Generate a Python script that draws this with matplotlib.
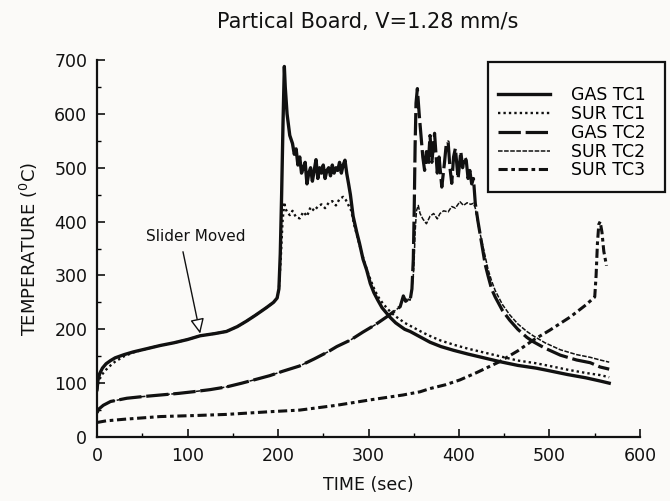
import matplotlib
matplotlib.use("Agg")
import matplotlib.pyplot as plt
from matplotlib.patches import Rectangle
from matplotlib.ticker import MultipleLocator

plt.rcParams['font.family'] = ['DejaVu Sans']

# ---- thermocouple traces (time in s, temperature in deg C) ----
gas_tc1_t = [0, 1, 3, 6, 10, 15, 20, 30, 40, 55, 70, 85, 100, 114, 130, 143, 155, 165,
             175, 187, 195, 199, 201, 202.5, 204, 205.5, 207, 208, 210, 213, 216, 218,
             220, 222, 224, 226, 228, 230, 232, 234, 236, 238, 240, 242, 244, 246, 248,
             250, 252, 254, 256, 258, 260, 262, 264, 266, 268, 270, 272, 274, 276, 278,
             280, 283, 287, 290, 294, 298, 302, 306, 310, 315, 320, 324, 330, 340, 346,
             357, 368, 380, 394, 410, 425, 445, 465, 485, 497, 520, 540, 556, 566]
gas_tc1_T = [88, 105, 118, 128, 136, 142, 147, 153, 158, 164, 170, 175, 181, 188, 192, 196,
             205, 215, 226, 240, 250, 258, 275, 340, 450, 580, 688, 650, 600, 560, 545, 525,
             535, 505, 520, 490, 500, 510, 470, 490, 500, 475, 495, 515, 480, 500, 490,
             505, 480, 495, 500, 485, 505, 490, 500, 495, 510, 490, 505, 514, 489, 470,
             450, 410, 380, 360, 330, 310, 285, 268, 255, 240, 230, 222, 212, 200, 196,
             186, 176, 168, 161, 154, 148, 140, 133, 128, 124, 116, 110, 104, 100]

sur_tc1_t = [0, 1, 3, 6, 10, 15, 20, 30, 40, 55, 70, 85, 100, 114, 130, 143, 155, 165,
             175, 187, 195, 199, 201, 203, 205, 207, 208, 210, 213, 216, 220, 224, 228,
             232, 236, 240, 244, 248, 252, 256, 260, 264, 268, 272, 275, 278, 281, 284,
             288, 292, 296, 300, 305, 310, 315, 320, 325, 330, 340, 350, 360, 370, 380,
             395, 410, 425, 445, 465, 485, 500, 520, 540, 556, 566]
sur_tc1_T = [88, 98, 108, 117, 125, 133, 140, 150, 157, 164, 170, 175, 181, 188, 192, 196,
             205, 215, 226, 240, 250, 258, 275, 330, 400, 436, 425, 418, 412, 420, 408,
             406, 418, 410, 427, 420, 428, 432, 425, 435, 438, 430, 442, 446, 440, 430,
             420, 395, 370, 345, 322, 302, 280, 262, 250, 240, 231, 224, 212, 203, 194,
             186, 179, 171, 164, 158, 150, 142, 137, 132, 125, 119, 115, 111]

gas_tc2_t = [0, 2, 7, 15, 33, 50, 70, 90, 106, 125, 143, 160, 180, 191, 205, 224, 240, 255,
             265, 280, 294, 307, 320, 328, 335, 338.5, 341, 344, 346, 348, 349.5, 350.5,
             351.5, 352.5, 354, 356, 358, 360, 362, 364, 366, 368, 370, 373, 376, 378, 381,
             384, 386, 388, 390, 392, 394, 396, 399, 402, 404, 406, 408, 410, 412, 414, 416,
             418, 421, 425, 429, 432, 436, 440, 448, 456, 465, 475, 482, 495, 512, 530,
             545, 556, 566]
gas_tc2_T = [45, 52, 59, 66, 72, 75, 78, 81, 84, 88, 93, 100, 109, 114, 122, 132, 145, 158,
             168, 180, 195, 208, 223, 233, 242, 262, 252, 256, 254, 275, 330, 420, 540, 620,
             647, 600, 560, 520, 495, 530, 505, 560, 510, 564, 490, 520, 464, 510, 545, 548,
             500, 471, 520, 536, 480, 530, 500, 520, 514, 480, 495, 470, 480, 434, 400, 360,
             320, 300, 275, 260, 235, 217, 200, 185, 177, 165, 152, 143, 138, 130, 126]

sur_tc2_t = [0, 2, 7, 15, 33, 50, 70, 90, 106, 125, 143, 160, 180, 191, 205, 224, 240, 255,
             265, 280, 294, 307, 320, 328, 335, 338.5, 341, 344, 346, 348, 349.5, 350.5,
             351.5, 353, 355, 357, 360, 364, 368, 372, 376, 379, 383, 388, 392, 396, 401,
             405, 409, 413, 416, 418, 421, 425, 429, 432, 436, 440, 448, 456, 465, 475, 482,
             495, 512, 530, 545, 556, 566]
sur_tc2_T = [45, 52, 59, 66, 72, 75, 78, 81, 84, 88, 93, 100, 109, 114, 122, 132, 145, 158,
             168, 180, 195, 208, 223, 233, 242, 262, 252, 256, 254, 275, 300, 330, 380, 420,
             430, 415, 405, 396, 410, 415, 405, 415, 420, 418, 428, 425, 437, 430, 435, 432,
             434, 425, 395, 365, 335, 312, 290, 272, 246, 227, 210, 196, 188, 175, 162, 153,
             148, 143, 139]

sur_tc3_t = [0, 10, 30, 70, 110, 143, 191, 224, 265, 302, 338, 357, 368, 385, 401, 420, 445,
             465, 482, 500, 523, 540, 550, 551.5, 553, 554.5, 556, 558, 560, 563]
sur_tc3_T = [27, 30, 33, 38, 40, 42, 47, 50, 59, 69, 78, 84, 90, 97, 106, 120, 140, 160, 180,
             198, 223, 245, 260, 300, 360, 395, 400, 380, 345, 318]

series_labels = ['GAS TC1', 'SUR TC1', 'GAS TC2', 'SUR TC2', 'SUR TC3']

fig = plt.figure(figsize=(6.70, 5.01), dpi=100)
fig.patch.set_facecolor('#fbfaf8')
ax = fig.add_axes([0.1448, 0.1277, 0.8104, 0.7525])
ax.set_facecolor('#fbfaf8')

ink = '#111111'
h1, = ax.plot(gas_tc1_t, gas_tc1_T, color=ink, lw=2.4, ls='-')
h2, = ax.plot(sur_tc1_t, sur_tc1_T, color=ink, lw=1.7, ls=(0, (1, 1.3)))
h3, = ax.plot(gas_tc2_t, gas_tc2_T, color=ink, lw=2.3, ls=(0, (7, 1.5)))
h4, = ax.plot(sur_tc2_t, sur_tc2_T, color=ink, lw=1.1, ls=(0, (3, 1)))
h5, = ax.plot(sur_tc3_t, sur_tc3_T, color=ink, lw=2.2, ls=(0, (3, 1.2, 1.2, 1.2)))

ax.set_xlim(0, 600)
ax.set_ylim(0, 700)
ax.xaxis.set_major_locator(MultipleLocator(100))
ax.xaxis.set_minor_locator(MultipleLocator(50))
ax.yaxis.set_major_locator(MultipleLocator(100))
ax.yaxis.set_minor_locator(MultipleLocator(50))
ax.tick_params(which='major', direction='in', length=6, width=1.2, labelsize=12.5,
               colors=ink, pad=7)
ax.tick_params(which='minor', direction='in', length=3, width=1.0)
for side in ('top', 'right'):
    ax.spines[side].set_visible(False)
for side in ('left', 'bottom'):
    ax.spines[side].set_linewidth(1.6)
    ax.spines[side].set_color(ink)

ax.set_xlabel('TIME (sec)', fontsize=12.5, color=ink, labelpad=8)
ax.set_ylabel(r'TEMPERATURE ($^{\rm 0}$C)', fontsize=13, color=ink, labelpad=10)
fig.text(0.549, 0.956, 'Partical Board, V=1.28 mm/s', ha='center', va='center',
         fontsize=15, color=ink)

# slider annotation: label plus a slanted arrow with an open triangular head
ax.text(109, 372, 'Slider Moved', ha='center', va='center', fontsize=11, color=ink)
ax.annotate('', xy=(114, 192), xytext=(95, 344),
            arrowprops=dict(arrowstyle='-|>,head_length=0.9,head_width=0.42',
                            fc='white', ec=ink, lw=1.0, shrinkA=0, shrinkB=0))

# boxed legend
fig.add_artist(Rectangle((488 / 670, 1 - 192 / 501), 177 / 670, 130 / 501,
                         transform=fig.transFigure, fill=False, lw=1.6, ec=ink))
fig.legend([h1, h2, h3, h4, h5], series_labels, loc='upper left',
           bbox_to_anchor=(498 / 670, 1 - 86 / 501), frameon=False, fontsize=12.5,
           handlelength=3.0, handletextpad=1.2, labelspacing=0.05, borderpad=0,
           borderaxespad=0)

fig.savefig('out.png', dpi=100, facecolor=fig.get_facecolor())
